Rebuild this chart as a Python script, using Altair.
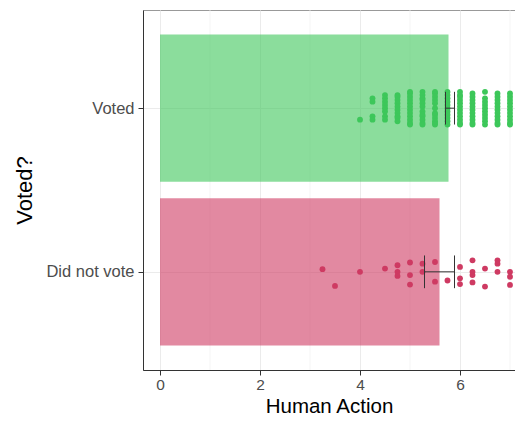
import altair as alt
import pandas as pd

# ---- data ----
categories = ["Did not vote", "Voted"]
cat_pos = [1, 2]
colors = ["#CE3A62", "#3DC75A"]
bar_means = [5.59, 5.77]
ci_low = [5.29, 5.71]
ci_high = [5.89, 5.89]

# jittered points: x value per column, vertical jitter (data units) per point
voted_values = [4.0, 4.25, 4.5, 4.75, 5.0, 5.25, 5.5, 5.75, 6.0, 6.25, 6.5, 6.75, 7.0]
voted_jitter = [
    [-0.07],
    [0.06, 0.04, -0.05, -0.07],
    [0.08, 0.06, 0.04, 0.02, 0.0, -0.02, -0.05, -0.07],
    [0.08, 0.07, 0.05, 0.03, 0.01, -0.01, -0.03, -0.05, -0.06, -0.08],
    [0.10, 0.09, 0.07, 0.05, 0.03, 0.01, -0.01, -0.03, -0.05, -0.07, -0.09, -0.10],
    [0.10, 0.08, 0.06, 0.05, 0.03, 0.01, -0.02, -0.04, -0.05, -0.07, -0.09, -0.10],
    [0.10, 0.09, 0.07, 0.05, 0.03, 0.0, -0.03, -0.04, -0.06, -0.08, -0.09, -0.10],
    [0.10, 0.08, 0.06, 0.04, 0.02, 0.0, -0.02, -0.04, -0.06, -0.08, -0.10],
    [0.10, 0.08, 0.07, 0.05, 0.03, 0.01, -0.01, -0.03, -0.05, -0.07, -0.09, -0.10],
    [0.09, 0.07, 0.05, 0.03, 0.01, -0.01, -0.03, -0.05, -0.07, -0.09, -0.10],
    [0.10, 0.06, 0.04, 0.02, 0.0, -0.02, -0.04, -0.06, -0.08, -0.10],
    [0.09, 0.07, 0.05, 0.03, 0.01, -0.01, -0.03, -0.05, -0.07, -0.09, -0.10],
    [0.09, 0.07, 0.05, 0.03, 0.01, -0.01, -0.03, -0.05, -0.07, -0.09, -0.10],
]
notvote_values = [3.25, 3.5, 4.0, 4.5, 4.75, 5.0, 5.25, 5.5, 5.75, 6.0, 6.25, 6.5, 6.75, 7.0]
notvote_jitter = [
    [0.016],
    [-0.086],
    [0.0],
    [0.02],
    [0.04, 0.0, -0.025],
    [0.057, -0.02, -0.078],
    [0.05, 0.0],
    [0.06, -0.06],
    [-0.053],
    [0.03, -0.04, -0.075],
    [0.07, 0.0, -0.02, -0.065],
    [0.02, -0.09],
    [0.07, 0.05, 0.0],
    [0.0, -0.03, -0.08],
]
minor_grid = [1, 3, 5, 7]

# ---- tables ----
rows = []
for vals, jit, cat, pos in [(notvote_values, notvote_jitter, categories[0], cat_pos[0]),
                            (voted_values, voted_jitter, categories[1], cat_pos[1])]:
    for v, js in zip(vals, jit):
        for j in js:
            rows.append({"cat": cat, "x": v, "y": pos + j})
points = pd.DataFrame(rows)

bars = pd.DataFrame({"cat": categories, "pos": cat_pos, "mean": bar_means,
                     "lo": ci_low, "hi": ci_high})
bars["start"] = 0.0
bars["y1"] = bars["pos"] - 0.45
bars["y2"] = bars["pos"] + 0.45
bars["c1"] = bars["pos"] - 0.1
bars["c2"] = bars["pos"] + 0.1

caps = pd.concat([
    bars[["cat", "c1", "c2"]].assign(cx=bars["lo"]),
    bars[["cat", "c1", "c2"]].assign(cx=bars["hi"]),
])
minor = pd.DataFrame({"m": minor_grid})

FONT = "Liberation Sans"
xscale = alt.Scale(domain=[-0.34, 7.1], nice=False, zero=False)
yscale = alt.Scale(domain=[0.4, 2.6], nice=False, zero=False)
cscale = alt.Scale(domain=categories, range=colors)

xaxis = alt.Axis(values=[0, 2, 4, 6], title="Human Action", grid=True,
                 gridColor="#EBEBEB", gridWidth=1, tickColor="#333333",
                 domainColor="#333333", tickSize=5, labelFontSize=15.5,
                 labelColor="#4D4D4D", labelFont=FONT, labelPadding=2,
                 titleFont=FONT, titleFontSize=20.5, titleFontWeight="normal",
                 titleColor="black", titleY=36, titleBaseline="middle")
yaxis = alt.Axis(values=[1, 2], title="Voted?",
                 labelExpr="datum.value == 2 ? 'Voted' : 'Did not vote'",
                 grid=True, gridColor="#EBEBEB", gridWidth=1,
                 tickColor="#333333", domainColor="#333333", tickSize=5,
                 labelFontSize=16.5, labelColor="#4D4D4D", labelFont=FONT,
                 labelPadding=4, titleFont=FONT, titleFontSize=22,
                 titleFontWeight="normal", titleColor="black",
                 titleX=-119, titleY=180, titleAngle=-90,
                 titleAlign="center", titleBaseline="middle")

minor_layer = alt.Chart(minor).mark_rule(color="#F0F0F0", strokeWidth=0.7).encode(
    x=alt.X("m:Q", scale=xscale, axis=xaxis)
)

bar_layer = alt.Chart(bars).mark_rect(opacity=0.6).encode(
    x=alt.X("start:Q", scale=xscale, axis=xaxis),
    x2="mean:Q",
    y=alt.Y("y1:Q", scale=yscale, axis=yaxis),
    y2="y2:Q",
    color=alt.Color("cat:N", scale=cscale, legend=None),
)

point_layer = alt.Chart(points).mark_circle(size=34, opacity=1).encode(
    x=alt.X("x:Q", scale=xscale, axis=xaxis),
    y=alt.Y("y:Q", scale=yscale, axis=yaxis),
    color=alt.Color("cat:N", scale=cscale, legend=None),
)

err_layer = alt.Chart(bars).mark_rule(color="#333333", strokeWidth=1).encode(
    x=alt.X("lo:Q", scale=xscale, axis=xaxis),
    x2="hi:Q",
    y=alt.Y("pos:Q", scale=yscale, axis=yaxis),
)

cap_layer = alt.Chart(caps).mark_rule(color="#333333", strokeWidth=1).encode(
    x=alt.X("cx:Q", scale=xscale, axis=xaxis),
    y=alt.Y("c1:Q", scale=yscale, axis=yaxis),
    y2="c2:Q",
)

chart = alt.layer(minor_layer, bar_layer, point_layer, err_layer, cap_layer).properties(
    width=372, height=360,
    autosize=alt.AutoSizeParams(type="none"),
    padding={"left": 135, "top": 2, "right": 0, "bottom": 46},
    background="white",
).configure_view(stroke="#999999", strokeWidth=1)

chart.save("out.html", embed_options={"renderer": "svg", "actions": False})
